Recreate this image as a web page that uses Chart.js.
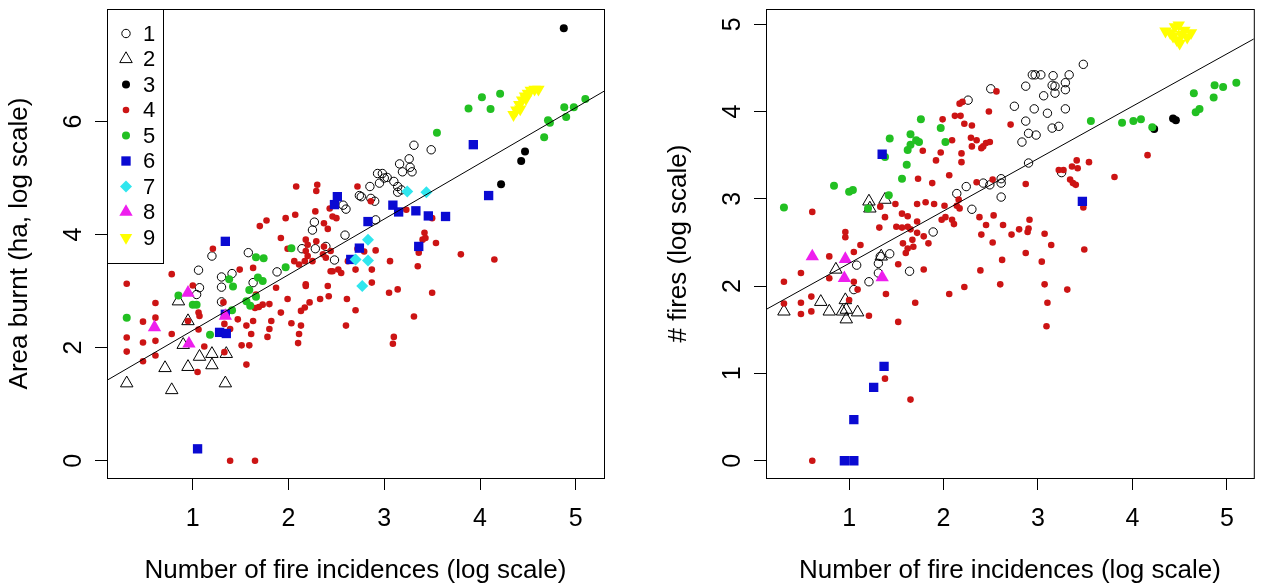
<!DOCTYPE html>
<html lang="en">
<head>
  <meta charset="UTF-8" />
  <title>Fire incidences vs area burnt and number of fires</title>
  <style>
    body { margin: 0; background: #fff; }
    .panel { position: absolute; top: 0; width: 631px; height: 588px; }
    #left { left: 0; }
    #right { left: 631px; }
  </style>
</head>
<body>
  <div class="panel" id="left"><canvas id="areaChart" width="631" height="588"></canvas></div>
  <div class="panel" id="right"><canvas id="firesChart" width="631" height="588"></canvas></div>

  <script src="https://cdn.jsdelivr.net/npm/chart.js"></script>
  <script>
    const FONT = '"Liberation Sans", Arial, sans-serif';

    const groupNames = ['1', '2', '3', '4', '5', '6', '7', '8', '9'];
    const xTicks = [1, 2, 3, 4, 5];
    const areaTicks = [0, 2, 4, 6];
    const firesTicks = [0, 1, 2, 3, 4, 5];

    // fitted lines: intercept, slope
    const areaFit = [1.32, 0.985];
    const firesFit = [1.66, 0.60];

    // left panel: log number of fire incidences vs log area burnt, per group
    const areaG1 = [[1.04,2.94],[1.07,3.06],[1.06,3.37],[1.20,3.62],[1.30,2.81],[1.30,3.07],[1.30,3.25],[1.41,3.31],[1.58,3.68],[1.63,3.15],[1.88,3.34],[2.14,3.75],[2.25,4.08],[2.27,4.22],[2.28,3.75],[2.39,3.79],[2.48,3.55],[2.59,3.99],[2.57,4.52],[2.60,4.45],[2.74,4.69],[2.85,4.85],[2.86,4.64],[2.90,4.59],[2.91,4.26],[2.93,5.08],[2.95,4.91],[3.00,5.00],[3.03,5.01],[3.10,4.94],[3.14,4.85],[3.14,4.75],[3.18,4.79],[3.16,5.25],[3.19,5.11],[3.26,5.34],[3.27,5.19],[3.29,5.11],[3.31,5.58],[3.49,5.50],[2.76,4.67],[2.98,5.08]];
    const areaG2 = [[0.31,1.37],[0.71,1.64],[0.78,1.25],[0.85,2.82],[0.95,1.66],[0.95,2.47],[0.90,2.05],[1.07,1.84],[1.20,1.89],[1.20,1.69],[1.35,1.89],[1.34,1.37]];
    const areaG3 = [[4.875,7.65],[4.47,5.47],[4.43,5.30],[4.22,4.89]];
    const areaG4 = [[0.31,3.13],[0.31,2.18],[0.31,1.93],[0.48,2.46],[0.48,2.09],[0.48,1.76],[0.61,2.79],[0.61,2.53],[0.61,2.12],[0.61,1.86],[0.78,3.30],[0.78,2.24],[0.95,2.47],[1.00,3.10],[1.06,2.62],[1.06,2.32],[1.07,2.56],[1.12,2.02],[1.05,1.57],[1.21,3.75],
      [1.32,2.80],[1.33,2.42],[1.39,2.33],[1.33,1.92],[1.47,2.50],[1.51,2.04],[1.56,1.70],[1.59,2.04],[1.56,2.39],[1.63,2.47],[1.49,3.38],[1.63,3.41],[1.66,2.94],[1.69,2.72],[1.65,2.70],[1.61,2.24],[1.73,2.76],[1.78,2.19],[1.80,2.33],[1.82,2.47],[1.87,3.06],[1.80,2.77],[1.92,2.62],[1.92,3.94],[1.99,2.86],[1.70,4.15],[1.77,4.25],[1.97,4.29],[1.99,3.75],[1.39,0.00],[1.65,0.00],
      [2.03,2.43],[2.13,2.39],[2.11,2.24],[2.10,2.08],[2.13,2.65],[2.17,2.71],[2.18,3.12],[2.22,2.80],[2.33,2.86],[2.42,2.91],[2.41,3.09],[2.18,3.09],[2.46,3.35],[2.61,2.86],[2.60,2.39],[2.08,4.85],[2.30,4.88],[2.29,4.77],[2.72,4.85],[2.07,4.35],[2.28,4.41],[2.37,4.20],[2.41,4.10],[2.43,4.46],[2.46,4.32],[2.50,4.29],[2.86,4.59],[2.18,3.91],[2.20,3.82],[2.18,3.71],[2.20,3.62],[2.17,3.53],[2.29,3.88],[2.37,3.79],[2.44,3.71],[2.39,3.59],[2.06,3.53],[2.11,3.47],[2.25,3.53],[2.36,3.65],[2.52,3.38],[2.55,3.32],[2.44,3.35],[2.62,3.53],[2.70,3.38],[2.72,3.75],[2.79,3.70],[2.91,3.72],[2.87,3.38],[2.87,3.15],[2.70,2.66],
      [3.06,3.53],[3.05,2.97],[3.14,3.03],[3.50,2.97],[3.31,2.55],[3.10,2.19],[3.09,2.07],[3.50,4.29],[3.23,4.44],[3.42,4.03],[3.40,3.91],[3.43,3.94],[3.35,3.76],[3.36,3.68],[3.54,3.85],[3.35,3.44],[3.80,3.65],[4.15,3.56]];
    const areaG5 = [[0.31,2.53],[0.85,2.92],[1.00,2.76],[1.04,2.76],[1.18,2.23],[1.38,3.21],[1.42,3.08],[1.41,2.66],[1.56,2.82],[1.60,2.74],[1.59,3.02],[1.66,2.90],[1.66,3.60],[1.74,3.58],[1.68,3.24],[1.73,3.18],[1.97,3.42],[2.03,3.76],[3.55,5.80],[3.88,6.23],[4.02,6.43],[4.11,6.22],[4.21,6.49],[4.67,5.72],[4.71,6.02],[4.73,5.98],[4.88,6.25],[4.90,6.08],[4.98,6.25],[5.10,6.40]];
    const areaG6 = [[1.05,0.21],[1.28,2.27],[1.35,2.25],[1.34,2.59],[1.34,3.88],[2.48,4.53],[2.51,4.67],[2.65,3.56],[2.74,3.76],[2.83,4.23],[3.09,4.52],[3.15,4.40],[3.33,4.42],[3.36,3.79],[3.46,4.33],[3.64,4.32],[3.93,5.59],[4.09,4.69]];
    const areaG7 = [[2.70,3.56],[2.77,3.09],[2.83,3.91],[2.83,3.54],[3.24,4.76],[3.44,4.75]];
    const areaG8 = [[0.60,2.36],[0.95,2.97],[0.96,2.07],[1.34,2.56]];
    const areaG9 = [[4.35,6.12],[4.38,6.20],[4.41,6.30],[4.44,6.38],[4.47,6.45],[4.50,6.50],[4.53,6.55],[4.57,6.57],[4.61,6.57],[4.42,6.22],[4.48,6.40]];

    // right panel: log number of fire incidences vs log number of fires, per group
    const firesG1 = [[1.05,1.96],[1.08,2.24],[1.21,2.05],[1.31,2.15],[1.31,2.26],[1.33,2.34],[1.43,2.37],[1.64,2.17],[1.89,2.62],[2.14,3.06],[2.24,3.14],[2.30,2.88],[2.42,3.18],[2.49,3.16],[2.61,3.23],[2.61,3.18],[2.61,3.02],[2.26,4.13],[2.50,4.26],[2.75,4.06],[2.83,3.65],[2.87,3.89],[2.87,4.29],[2.90,3.75],[2.90,3.41],[2.94,4.42],[2.97,4.42],[2.98,3.73],[2.96,4.03],[3.03,4.42],[3.06,4.18],[3.10,3.98],[3.15,3.81],[3.15,4.30],[3.16,4.41],[3.18,4.29],[3.18,4.21],[3.22,3.83],[3.25,3.30],[3.29,4.25],[3.29,4.33],[3.29,4.03],[3.33,4.42],[3.48,4.54]];
    const firesG2 = [[0.31,1.71],[0.70,1.82],[0.79,1.71],[0.86,2.19],[0.96,1.84],[0.93,1.71],[0.97,1.73],[0.97,1.62],[1.09,1.70],[1.21,2.97],[1.22,2.89],[1.38,2.99],[1.34,2.34]];
    const firesG3 = [[4.23,3.80],[4.43,3.92],[4.46,3.90]];
    const firesG4 = [[0.31,2.05],[0.31,1.80],[0.49,2.15],[0.49,1.81],[0.49,1.68],[0.60,1.88],[0.60,1.71],[0.61,2.85],[0.61,0.00],[0.79,2.34],[0.79,2.09],[0.96,2.62],[0.96,2.56],[1.00,1.84],[1.05,2.39],[1.05,2.05],[1.09,1.96],[1.12,2.47],[1.21,1.66],[1.32,2.67],[1.33,2.91],[1.38,2.79],[1.39,1.91],[1.38,0.94],[1.49,2.94],[1.50,2.68],[1.52,2.25],[1.52,1.59],[1.56,2.83],[1.56,2.67],[1.57,2.49],[1.60,2.38],[1.62,2.80],[1.62,2.68],[1.62,2.43],[1.65,2.65],[1.65,0.70],[1.67,2.53],[1.68,2.45],[1.70,1.81],[1.72,2.94],[1.72,2.74],[1.72,2.61],[1.73,3.23],[1.78,3.55],[1.79,2.19],[1.79,2.57],[1.81,2.96],[1.84,2.49],[1.88,3.18],[1.90,2.94],[1.92,3.44],[1.97,3.53],[1.98,2.76],[1.99,3.91],
      [2.01,2.92],[2.02,2.79],[2.06,3.27],[2.06,1.91],[2.09,3.67],[2.09,2.76],[2.11,2.71],[2.12,3.95],[2.14,2.92],[2.16,2.99],[2.17,2.89],[2.17,4.09],[2.18,3.95],[2.19,3.52],[2.19,3.42],[2.20,4.11],[2.22,3.86],[2.22,1.99],[2.29,3.70],[2.30,3.84],[2.30,3.60],[2.35,3.67],[2.35,3.19],[2.38,2.79],[2.39,2.18],[2.40,2.59],[2.40,3.58],[2.42,3.60],[2.45,3.64],[2.45,2.70],[2.48,4.00],[2.49,3.65],[2.52,2.50],[2.52,3.22],[2.53,2.81],[2.56,4.23],[2.60,2.02],[2.62,2.30],[2.63,2.70],[2.71,3.85],[2.72,2.59],[2.80,2.65],[2.87,2.38],[2.87,3.17],[2.89,2.62],[2.90,2.66],[2.91,2.76],
      [3.04,2.28],[3.07,2.60],[3.07,2.02],[3.09,1.54],[3.10,1.81],[3.14,2.47],[3.22,3.33],[3.27,3.33],[3.31,1.96],[3.34,3.22],[3.36,3.37],[3.37,3.18],[3.40,3.16],[3.41,3.44],[3.42,3.35],[3.48,2.90],[3.49,2.42],[3.54,3.42],[3.81,3.25],[4.16,3.50]];
    const firesG5 = [[0.31,2.90],[0.84,3.15],[1.00,3.08],[1.04,3.10],[1.20,2.89],[1.38,3.48],[1.43,3.69],[1.42,3.04],[1.56,3.23],[1.61,3.39],[1.62,3.56],[1.65,3.74],[1.65,3.62],[1.71,3.67],[1.74,3.65],[1.76,3.91],[1.97,3.81],[2.02,3.65],[3.56,3.89],[3.89,3.87],[4.01,3.89],[4.09,3.91],[4.21,3.82],[4.65,4.21],[4.67,3.99],[4.71,4.03],[4.86,4.16],[4.87,4.30],[4.96,4.28],[5.10,4.33]];
    const firesG6 = [[1.35,3.51],[1.37,1.08],[1.26,0.84],[1.05,0.47],[0.95,0.00],[1.05,0.00],[3.47,2.97]];
    const firesG7 = [];
    const firesG8 = [[0.61,2.34],[0.96,2.31],[0.95,2.09],[1.35,2.10]];
    const firesG9 = [[4.35,4.92],[4.40,4.90],[4.45,4.97],[4.49,4.99],[4.52,4.88],[4.55,4.93],[4.58,4.85],[4.47,4.82],[4.50,4.78],[4.43,4.86],[4.62,4.90]];

    const groupStyles = [
      { pointStyle: 'circle',   radius: 4.2, fill: 'rgba(0,0,0,0)', stroke: '#000', bw: 1 },
      { pointStyle: 'triangle', radius: 7.2, fill: 'rgba(0,0,0,0)', stroke: '#000', bw: 1 },
      { pointStyle: 'circle',   radius: 4,   fill: '#000',    stroke: '#000', bw: 0 },
      { pointStyle: 'circle',   radius: 3.3, fill: '#CC1414', stroke: '#CC1414', bw: 0 },
      { pointStyle: 'circle',   radius: 4,   fill: '#22C022', stroke: '#22C022', bw: 0 },
      { pointStyle: 'rect',     radius: 6.6, fill: '#0A0AD2', stroke: '#0A0AD2', bw: 0 },
      { pointStyle: 'rectRot',  radius: 6,   fill: '#30E6EE', stroke: '#30E6EE', bw: 0 },
      { pointStyle: 'triangle', radius: 7.7, fill: '#EE1EEE', stroke: '#EE1EEE', bw: 0 },
      { pointStyle: 'triangle', radius: 7.2, fill: '#FFFF00', stroke: '#FFFF00', bw: 0, rotation: 180 }
    ];

    function pointSets(groups) {
      return groups.map((pts, i) => {
        const s = groupStyles[i];
        return {
          type: 'scatter',
          label: groupNames[i],
          data: pts.map(p => ({ x: p[0], y: p[1] })),
          pointStyle: s.pointStyle,
          pointRadius: s.radius,
          pointHoverRadius: s.radius,
          pointRotation: s.rotation || 0,
          pointBackgroundColor: s.fill,
          pointBorderColor: s.stroke,
          pointBorderWidth: s.bw,
          order: 10 - i
        };
      });
    }

    function fitLine(fit, xMin, xMax) {
      return {
        type: 'line',
        label: 'fit',
        data: [xMin, xMax].map(x => ({ x: x, y: fit[0] + fit[1] * x })),
        borderColor: '#000',
        borderWidth: 1,
        pointRadius: 0,
        order: 0
      };
    }

    // box, rotated y tick labels, axis titles and optional legend
    const rFrame = {
      id: 'rFrame',
      afterDraw(chart, args, opts) {
        const { ctx, chartArea: a, scales } = chart;
        ctx.save();
        ctx.strokeStyle = '#000';
        ctx.lineWidth = 1;
        ctx.strokeRect(a.left + 0.5, a.top + 0.5, a.right - a.left, a.bottom - a.top);
        ctx.fillStyle = '#000';
        ctx.font = '25px ' + FONT;
        ctx.textAlign = 'center';
        ctx.textBaseline = 'middle';
        opts.yTicks.forEach(v => {
          ctx.save();
          ctx.translate(a.left - 33, scales.y.getPixelForValue(v));
          ctx.rotate(-Math.PI / 2);
          ctx.fillText(String(v), 0, 0);
          ctx.restore();
        });
        ctx.font = '26px ' + FONT;
        ctx.save();
        ctx.translate(a.left - 87, (a.top + a.bottom) / 2);
        ctx.rotate(-Math.PI / 2);
        ctx.fillText(opts.yTitle, 0, 0);
        ctx.restore();
        ctx.fillText(opts.xTitle, (a.left + a.right) / 2, 571);

        if (opts.legend) {
          const lx = a.left, ly = a.top, lw = 56, lh = 254;
          ctx.fillStyle = '#fff';
          ctx.fillRect(lx, ly, lw, lh);
          ctx.strokeRect(lx + 0.5, ly + 0.5, lw, lh);
          groupNames.forEach((name, i) => {
            const s = groupStyles[i];
            const cy = ly + 24.5 + i * 25.5;
            ctx.fillStyle = s.fill;
            ctx.strokeStyle = s.stroke;
            ctx.lineWidth = s.bw;
            Chart.helpers.drawPoint(ctx, { pointStyle: s.pointStyle, radius: s.radius, rotation: s.rotation || 0, borderWidth: s.bw }, lx + 19, cy);
            ctx.fillStyle = '#000';
            ctx.font = '22px ' + FONT;
            ctx.textAlign = 'left';
            ctx.fillText(name, lx + 36, cy + 1);
          });
        }
        ctx.restore();
      }
    };

    function makeChart(id, groups, fit, xRange, yRange, yTicks, yTitle, pad, yWidth, legend) {
      new Chart(document.getElementById(id), {
        data: { datasets: pointSets(groups).concat([fitLine(fit, xRange[0], xRange[1])]) },
        options: {
          responsive: false,
          animation: false,
          events: [],
          layout: { padding: { top: 9, right: pad, left: 0, bottom: 0 } },
          plugins: {
            legend: { display: false },
            tooltip: { enabled: false },
            rFrame: { yTicks: yTicks, yTitle: yTitle, xTitle: 'Number of fire incidences (log scale)', legend: legend }
          },
          scales: {
            x: {
              type: 'linear', min: xRange[0], max: xRange[1],
              afterBuildTicks: s => { s.ticks = xTicks.map(v => ({ value: v })); },
              afterFit: s => { s.height = 110; },
              grid: { display: true, drawOnChartArea: false, drawTicks: true, tickLength: 12, color: '#000', lineWidth: 1 },
              border: { display: false },
              ticks: { color: '#000', font: { family: FONT, size: 25 }, padding: 14, maxRotation: 0, autoSkip: false }
            },
            y: {
              type: 'linear', min: yRange[0], max: yRange[1],
              afterBuildTicks: s => { s.ticks = yTicks.map(v => ({ value: v })); },
              afterFit: s => { s.width = yWidth; },
              grid: { display: true, drawOnChartArea: false, drawTicks: true, tickLength: 12, color: '#000', lineWidth: 1 },
              border: { display: false },
              ticks: { display: false }
            }
          }
        },
        plugins: [rFrame]
      });
    }

    makeChart('areaChart',
      [areaG1, areaG2, areaG3, areaG4, areaG5, areaG6, areaG7, areaG8, areaG9],
      areaFit, [0.104, 5.295], [-0.306, 7.99], areaTicks, 'Area burnt (ha, log scale)', 27, 107, true);

    makeChart('firesChart',
      [firesG1, firesG2, firesG3, firesG4, firesG5, firesG6, firesG7, firesG8, firesG9],
      firesFit, [0.12, 5.285], [-0.198, 5.174], firesTicks, '# fires (log scale)', 1, 135, false);
  </script>
</body>
</html>
